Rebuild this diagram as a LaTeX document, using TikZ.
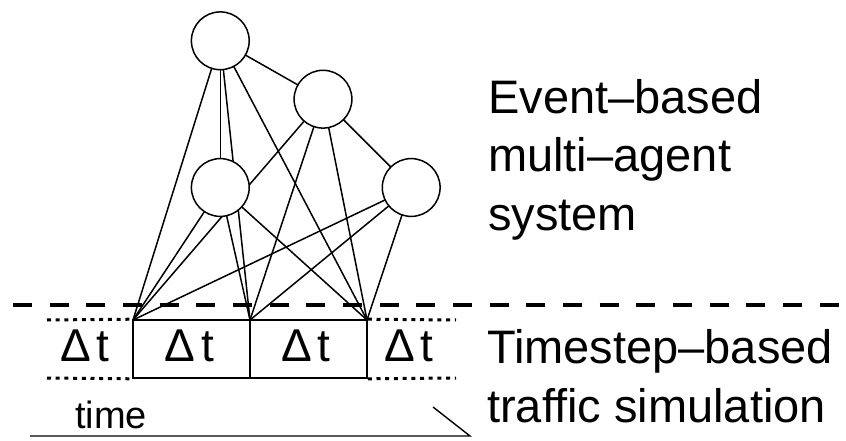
\documentclass[tikz,border=0pt]{standalone}
\usepackage{fontspec}
\setmainfont{Liberation Sans}
\usetikzlibrary{backgrounds}
\begin{document}
\begin{tikzpicture}[x=1pt,y=-1pt,
  agent/.style={circle,draw,fill=white,line width=1.5pt,minimum size=57.8pt,inner sep=0pt},
  edge/.style={line width=1.5pt},
  cell/.style={draw,line width=1.6pt,minimum width=117pt,minimum height=58pt,inner sep=0pt},
  dtlabel/.style={anchor=base,inner sep=0pt,font=\fontsize{46}{50}\selectfont},
  lbl/.style={anchor=base west,inner sep=0pt,font=\fontsize{47}{58}\selectfont},
  dots/.style={line width=3pt,dash pattern=on 4pt off 4.7pt},
  sep/.style={line width=3.5pt,dash pattern=on 19pt off 17.67pt}]
\useasboundingbox (0,0) rectangle (846,441);
% agents
\node[agent] (T) at (220.3,40.8) {};
\node[agent] (U) at (323,99.2) {};
\node[agent] (M) at (220.3,187.5) {};
\node[agent] (R) at (411.2,187.5) {};
% sync points
\coordinate (P1) at (133,320);
\coordinate (P2) at (250,320);
\coordinate (P3) at (367,320);
\begin{scope}[on background layer]
  \draw[edge] (T.center) -- (U.center);
  \draw[edge] (T.center) -- (M.center);
  \draw[edge] (U.center) -- (R.center);
  \foreach \a in {T,U,M,R}{
    \foreach \p in {P1,P2,P3}{
      \draw[edge] (\a.center) -- (\p);
    }
  }
\end{scope}
% separator
\coordinate (s1) at (13,305);
\coordinate (s2) at (839,305);
\draw[sep] (s1) -- (s2);
% timestep cells
\node[cell] (c2) at (191.5,349) {};
\node[cell] (c3) at (308.5,349) {};
\node[dtlabel] (l1) at (85,361) {Δ\kern6pt t};
\node[dtlabel] (l2) at (189.5,361) {Δ\kern6pt t};
\node[dtlabel] (l3) at (306,361) {Δ\kern6pt t};
\node[dtlabel] (l4) at (409,361) {Δ\kern6pt t};
\coordinate (d1) at (47,320);
\coordinate (d2) at (47,378);
\coordinate (d3) at (456,320);
\coordinate (d4) at (456,378);
\draw[dots] (d1) -- (c2.north west);
\draw[dots] (d2) -- (c2.south west);
\draw[dots] (c3.north east) -- (d3);
\draw[dots] (c3.south east) -- (d4);
% time axis
\node[anchor=base west,inner sep=0pt,font=\fontsize{38}{40}\selectfont] (time) at (75,428.3) {time};
\coordinate (t0) at (30,436);
\coordinate (t1) at (470,436);
\coordinate (t2) at (433,407);
\draw[line width=1.4pt] (t0) -- (t1) -- (t2);
% labels
\node[lbl] (e1) at (488,113.3) {Event–based};
\node[lbl] (e2) at (488,171.7) {multi–agent};
\node[lbl] (e3) at (488,230) {system};
\node[lbl] (s1l) at (487,363.3) {Timestep–based};
\node[lbl] (s2l) at (487,422.7) {traffic simulation};
\end{tikzpicture}
\end{document}
